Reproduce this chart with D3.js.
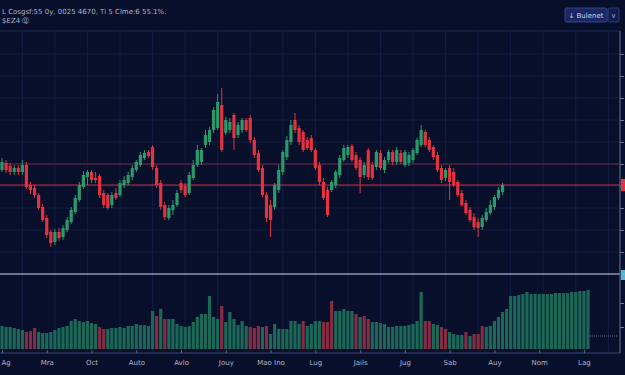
<!DOCTYPE html>
<html><head><meta charset="utf-8">
<script src="https://cdn.jsdelivr.net/npm/d3@7"></script>
<style>html,body{margin:0;padding:0;background:#080f2a;overflow:hidden}svg{display:block}</style>
</head><body>
<script>
// ---- data ----
const openV  = [130,137,134,128,132,128,135,115,112,105,93,82,68,58,68,63,70,78,88,100,113,123,128,122,124,107,105,95,107,105,115,117,123,130,135,142,148,153,132,117,95,82,90,95,117,114,107,122,135,138,155,158,170,172,195,167,170,185,165,170,180,182,160,147,132,105,95,93,110,128,143,158,180,172,168,160,162,150,135,118,110,110,115,125,140,145,154,145,140,125,150,135,133,147,130,140,148,138,147,135,137,140,147,155,168,160,153,145,132,122,132,128,118,107,97,90,83,78,73,80,87,93,102,108];
const highV  = [142,140,137,135,135,140,138,118,115,107,96,85,70,71,72,75,83,93,105,118,129,130,130,128,126,110,107,108,112,120,124,128,135,140,148,150,150,155,135,120,98,95,100,110,120,117,128,140,155,152,170,173,193,206,212,183,182,187,178,182,182,185,163,150,135,108,100,117,135,150,164,180,187,175,170,163,165,152,138,122,113,120,130,145,155,155,156,148,143,138,152,138,150,150,143,150,150,153,150,150,148,152,162,175,170,163,155,148,135,132,135,132,120,110,100,93,87,82,85,92,100,105,113,117];
const lowV   = [128,127,125,125,125,125,111,106,102,90,78,62,53,55,59,60,68,76,86,98,111,115,117,117,102,92,90,92,100,103,112,115,120,128,133,140,142,130,112,90,80,80,85,93,107,103,105,120,133,135,152,155,167,170,148,165,167,150,162,167,168,157,142,128,103,78,63,90,107,125,140,155,167,155,148,150,148,130,115,100,83,108,112,122,138,142,138,130,107,122,120,120,130,130,127,137,135,135,136,133,134,137,145,153,153,148,140,128,117,119,100,113,103,93,85,78,70,63,70,78,85,90,100,105];
const closeV = [138,130,128,132,128,135,113,110,105,92,80,65,57,68,62,72,80,90,102,115,125,128,120,120,105,95,92,105,102,117,120,125,132,138,145,147,144,133,115,93,83,92,95,107,110,105,125,135,150,150,165,170,190,198,150,180,178,162,175,180,170,160,145,130,105,82,80,115,130,148,160,175,170,158,150,152,150,132,118,102,85,118,128,142,152,153,140,132,123,135,123,122,148,132,140,148,138,150,138,148,145,150,160,170,155,150,143,130,120,130,118,115,105,95,87,80,73,72,82,88,95,103,110,115];
const volumes = [23,22,22,21,20,19,17,18,21,17,16,16,17,19,21,22,23,28,30,28,27,28,26,25,22,20,20,21,21,22,21,23,23,25,24,24,23,38,33,40,30,30,30,25,23,22,23,27,32,35,35,53,32,30,43,27,37,30,24,28,23,22,21,23,22,23,15,25,20,20,20,28,28,25,28,23,25,28,28,27,27,48,38,38,40,38,38,35,32,33,30,27,27,26,25,22,22,23,23,23,24,25,28,57,28,28,25,24,22,20,17,15,14,14,17,13,15,15,23,22,23,28,32,37,40,53,53,54,55,57,55,55,55,55,55,55,56,56,56,56,57,57,58,58,59];
const volDownIdx = [6,7,8,24,25,38,40,54,61,62,63,65,74,79,80,81,87,89,90,104,105,108,109,114,116,117,118];
const xTickIdx = [0,11,22,33,44,55,66,77,88,99,110,121,132,143];
const xTickLabels = ["Ag","Mra","Oct","Auto","Avlo","Jouy","Mao Ino","Lug","Jails","Jug","Sab","Auy","Nom","Lag"];
const priceTicks = d3.range(48, 250, 22);
const volTicks = [22, 46];
const levelLine = 136;
const legendLine1 = "L  Cosgsf:55 0y, 0025 4670, Ti 5 Clme:6 55.1%.";
const legendLine2 = "$EZ4 ⓖ";
const buttonLabel = "↓ Bulenet";

// ---- chart ----
const W = 625, H = 375;
const svg = d3.select("body").append("svg").attr("width", W).attr("height", H);
svg.append("rect").attr("width", W).attr("height", H).attr("fill", "#080f2a");

const x = d3.scaleLinear().domain([0, 144]).range([2, 588]);
const y = d3.scaleLinear().domain([24, 269]).range([276, 31]);
const yv = d3.scaleLinear().domain([0, 70]).range([349, 279]);
const axisX = 620;

// vertical grid
const gridIdx = d3.range(5, 150, 8);
svg.append("g").selectAll("line").data(gridIdx).join("line")
  .attr("x1", d => x(d)).attr("x2", d => x(d)).attr("y1", 31).attr("y2", 352)
  .attr("stroke", "#131c43").attr("stroke-width", 1);
// horizontal grid
svg.append("g").selectAll("line").data(priceTicks).join("line")
  .attr("x1", 0).attr("x2", axisX).attr("y1", d => y(d)).attr("y2", d => y(d))
  .attr("stroke", "#131c43").attr("stroke-width", 1);
// top border
svg.append("line").attr("x1", 0).attr("x2", axisX).attr("y1", 31).attr("y2", 31)
  .attr("stroke", "#1f2b55").attr("stroke-width", 1.2);

// level lines
svg.append("line").attr("x1", 0).attr("x2", axisX).attr("y1", y(levelLine)).attr("y2", y(levelLine))
  .attr("stroke", "#7a2a42").attr("stroke-width", 0.9);
const lastClose = closeV[closeV.length - 1];
svg.append("line").attr("x1", 0).attr("x2", axisX).attr("y1", y(lastClose)).attr("y2", y(lastClose))
  .attr("stroke", "#c8303e").attr("stroke-width", 1);

// candles
const candles = openV.map((o, i) => ({i, o, h: highV[i], l: lowV[i], c: closeV[i]}));
const up = "#2a9a6c", down = "#e3333f";
const cg = svg.append("g");
cg.selectAll("line").data(candles).join("line")
  .attr("x1", d => x(d.i)).attr("x2", d => x(d.i))
  .attr("y1", d => y(d.h)).attr("y2", d => y(d.l))
  .attr("stroke", d => d.c >= d.o ? up : down).attr("stroke-width", 1);
cg.selectAll("rect").data(candles).join("rect")
  .attr("x", d => x(d.i) - 1.6).attr("width", 3.2)
  .attr("y", d => y(Math.max(d.o, d.c)))
  .attr("height", d => Math.max(1, Math.abs(y(d.o) - y(d.c))))
  .attr("fill", d => d.c >= d.o ? up : down);

// separator
svg.append("line").attr("x1", 0).attr("x2", axisX).attr("y1", 274).attr("y2", 274)
  .attr("stroke", "#8d96b4").attr("stroke-width", 1.5);

// volume
const downSet = new Set(volDownIdx);
svg.append("g").selectAll("rect").data(volumes).join("rect")
  .attr("x", (d, i) => x(i) - 1.6).attr("width", 3.2)
  .attr("y", d => yv(d)).attr("height", d => yv(0) - yv(d))
  .attr("fill", (d, i) => downSet.has(i) ? "#852b44" : "#1c6858");
svg.append("line").attr("x1", 590).attr("x2", 617).attr("y1", 336).attr("y2", 336)
  .attr("stroke", "#5a6a90").attr("stroke-dasharray", "1,1");

// right axis
svg.append("line").attr("x1", axisX).attr("x2", axisX).attr("y1", 31).attr("y2", 353)
  .attr("stroke", "#6a7498").attr("stroke-width", 1);
svg.append("g").attr("transform", `translate(${axisX},0)`)
  .call(d3.axisRight(y).tickValues(priceTicks).tickSize(4).tickFormat(""))
  .call(g => g.select(".domain").remove())
  .call(g => g.selectAll("line").attr("stroke", "#6a7498"));
svg.append("g").attr("transform", `translate(${axisX},0)`)
  .call(d3.axisRight(yv).tickValues(volTicks).tickSize(4).tickFormat(""))
  .call(g => g.select(".domain").remove())
  .call(g => g.selectAll("line").attr("stroke", "#6a7498"));
// price labels
svg.append("rect").attr("x", axisX + 1).attr("y", y(lastClose) - 6).attr("width", 6).attr("height", 12).attr("fill", "#e2343f");
svg.append("rect").attr("x", axisX + 1).attr("y", 270).attr("width", 6).attr("height", 10).attr("fill", "#4fb8d2");

// x axis
const xa = svg.append("g").attr("transform", "translate(0,353)")
  .call(d3.axisBottom(x).tickValues(xTickIdx).tickSize(-3).tickPadding(6)
    .tickFormat((d, i) => xTickLabels[i]));
xa.select(".domain").attr("stroke", "#3d4874").attr("d", `M0,0H${axisX}`);
xa.selectAll("line").attr("stroke", "#5a6590");
xa.selectAll("text").attr("fill", "#aeb6cf").attr("font-size", 7).attr("font-family", "DejaVu Sans, sans-serif").attr("dy", "0.9em");
xa.selectAll("text").filter((d, i) => i === 0).attr("text-anchor", "start").attr("x", -1);

// legend
svg.append("text").attr("x", 2).attr("y", 14).text(legendLine1)
  .attr("fill", "#aab2cc").attr("font-size", 7).attr("font-family", "DejaVu Sans, sans-serif");
svg.append("text").attr("x", 2).attr("y", 23).text(legendLine2)
  .attr("fill", "#aab2cc").attr("font-size", 7).attr("font-family", "DejaVu Sans, sans-serif");

// button
svg.append("rect").attr("x", 565).attr("y", 8).attr("width", 42).attr("height", 14).attr("rx", 1.5)
  .attr("fill", "#1a2763").attr("stroke", "#34448a");
svg.append("text").attr("x", 586).attr("y", 18).attr("text-anchor", "middle").text(buttonLabel)
  .attr("fill", "#c8d0ee").attr("font-size", 7).attr("font-family", "DejaVu Sans, sans-serif");
svg.append("rect").attr("x", 608).attr("y", 8).attr("width", 11).attr("height", 14).attr("rx", 1.5)
  .attr("fill", "#121c4a").attr("stroke", "#2c3a78");
svg.append("text").attr("x", 613.5).attr("y", 18).attr("text-anchor", "middle").text("∨")
  .attr("fill", "#9aa4cc").attr("font-size", 7).attr("font-family", "DejaVu Sans, sans-serif");
</script>
</body></html>
